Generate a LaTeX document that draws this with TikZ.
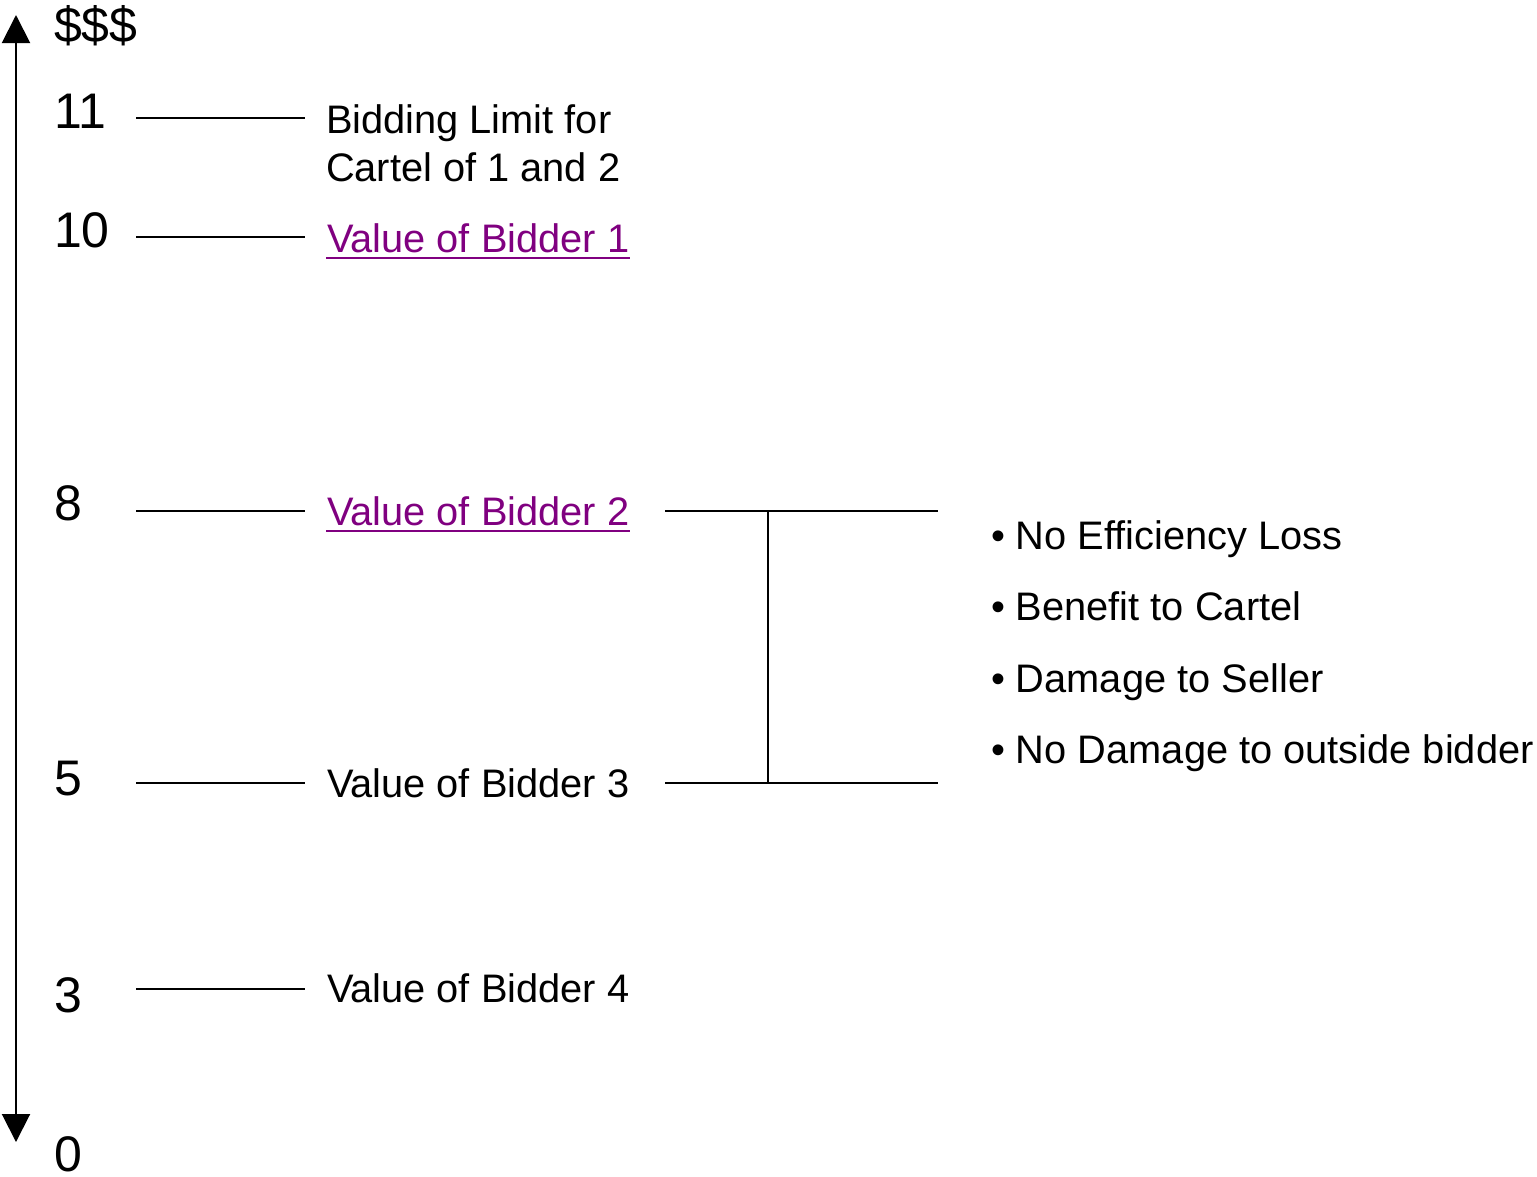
\documentclass[tikz,border=0pt]{standalone}
\usepackage{fontspec}
\setmainfont{Liberation Sans}
\usetikzlibrary{arrows.meta,positioning}
\definecolor{bidpurple}{HTML}{800080}

\begin{document}
\begin{tikzpicture}[x=1pt,y=-1pt,line width=2pt,
    num/.style={anchor=base west,inner sep=0pt,font=\fontsize{50}{58}\selectfont},
    lbl/.style={anchor=base west,inner sep=0pt,font=\fontsize{39.8}{47}\selectfont},
    link/.style={lbl,text=bidpurple},
    bigtip/.style={{Triangle[width=28pt,length=28pt]}-{Triangle[width=28pt,length=28pt]}}]
  \useasboundingbox (0,0) rectangle (1537,1176);
  % value axis
  \coordinate (axtop) at (16,15);
  \coordinate (axbot) at (16,1142);
  \draw[bigtip] (axtop)--(axbot);
  \node[num] (usd) at (53,42) {\$\$\$};
  % levels: name/line y
  \foreach \n/\ly in {eleven/118, ten/237, eight/511, five/783, three/989}{
    \coordinate (\n a) at (136,\ly);
    \coordinate (\n b) at (305,\ly);
    \draw (\n a)--(\n b);
  }
  \node[num] (n11) at (53,128) {11};
  \node[num] (n10) at (53,247) {10};
  \node[num] (n8) at (53,520) {8};
  \node[num] (n5) at (53,795) {5};
  \node[num] (n3) at (53,1012) {3};
  \node[num] (n0) at (53,1171) {0};
  % labels
  \node[lbl] (lim1) at (325,133) {Bidding Limit for};
  \node[lbl] (lim2) at (325,181) {Cartel of 1 and 2};
  \node[link] (v1) at (326,252) {Value of Bidder 1};
  \node[link] (v2) at (326,525) {Value of Bidder 2};
  \node[lbl] (v3) at (326,797) {Value of Bidder 3};
  \node[lbl] (v4) at (326,1002) {Value of Bidder 4};
  \draw[bidpurple] ([yshift=-6pt]v1.base west)--([yshift=-6pt]v1.base east);
  \draw[bidpurple] ([yshift=-6pt]v2.base west)--([yshift=-6pt]v2.base east);
  % bracket between 8 and 5
  \coordinate (brtl) at (665,511);
  \coordinate (brtr) at (938,511);
  \coordinate (brbl) at (665,783);
  \coordinate (brbr) at (938,783);
  \coordinate (brtm) at (768,511);
  \coordinate (brbm) at (768,783);
  \draw (brtl)--(brtr);
  \draw (brbl)--(brbr);
  \draw (brtm)--(brbm);
  % effects
  \node[lbl] (fx1) at (990,549) {\textbullet{} No Efficiency Loss};
  \node[lbl] (fx2) at (990,620) {\textbullet{} Benefit to Cartel};
  \node[lbl] (fx3) at (990,692) {\textbullet{} Damage to Seller};
  \node[lbl] (fx4) at (990,763) {\textbullet{} No Damage to outside bidder};
\end{tikzpicture}
\end{document}
